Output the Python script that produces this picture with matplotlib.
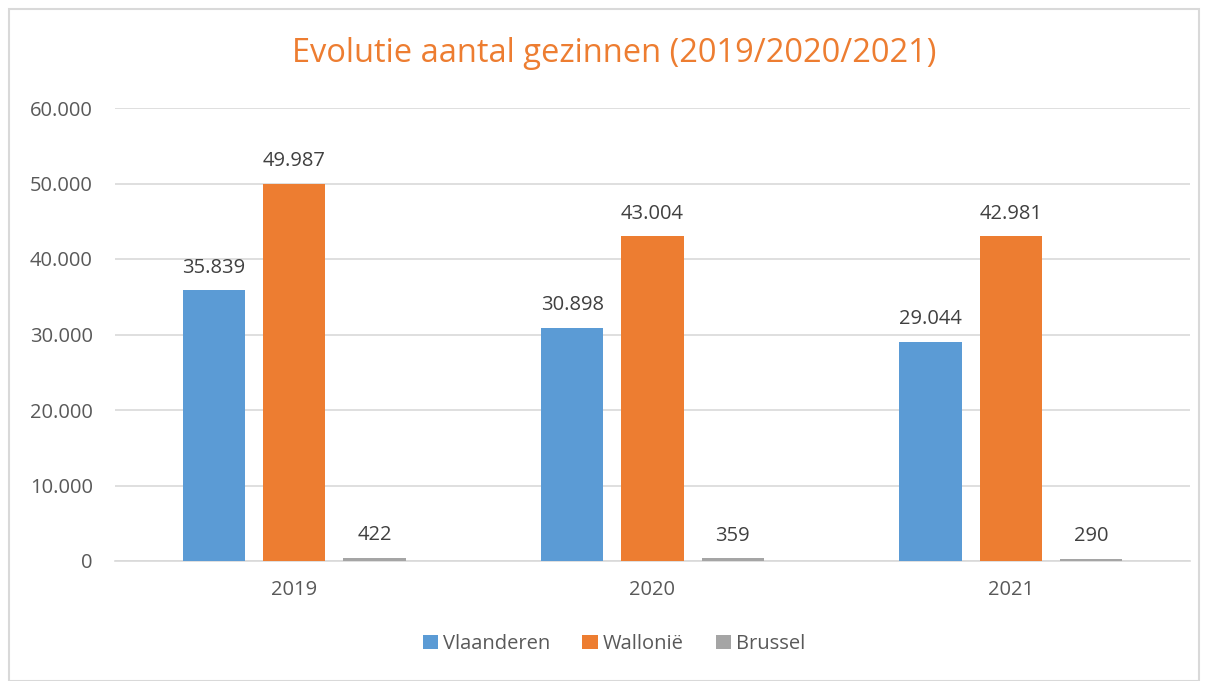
import matplotlib

matplotlib.use("Agg")

import matplotlib.pyplot as plt
import numpy as np
from matplotlib.patches import Rectangle
from matplotlib.ticker import FuncFormatter

years = ["2019", "2020", "2021"]
series_names = ["Vlaanderen", "Wallonië", "Brussel"]
vlaanderen = [35839, 30898, 29044]
wallonie = [49987, 43004, 42981]
brussel = [422, 359, 290]
colors = ["#5B9BD5", "#ED7D31", "#A5A5A5"]

TEXT = "#595959"
GRID = "#D9D9D9"
LABEL_SIZE = 14.5


def dotted(value: float) -> str:
    return f"{value:,.0f}".replace(",", ".")


plt.rcParams["font.family"] = ["Open Sans", "DejaVu Sans"]

fig = plt.figure(figsize=(12.08, 6.81), dpi=100)
fig.patches.append(
    Rectangle((9 / 1208, 0), 1 - 18 / 1208, 1 - 9 / 681, transform=fig.transFigure,
              fill=False, edgecolor=GRID, linewidth=1.5)
)
ax = fig.add_axes([115 / 1208, 1 - 561 / 681, 1075 / 1208, 453 / 681])

x = np.arange(len(years))
width = 0.174
step = 0.224
for i, (name, values) in enumerate(zip(series_names, [vlaanderen, wallonie, brussel])):
    pos = x + (i - 1) * step
    bars = ax.bar(pos, values, width, color=colors[i], label=name, zorder=3)
    for bar, v in zip(bars, values):
        ax.annotate(dotted(v), (bar.get_x() + bar.get_width() / 2, v),
                    xytext=(0, 9), textcoords="offset points",
                    ha="center", va="bottom", fontsize=LABEL_SIZE, color="#404040")

ax.set_xlim(-0.5, 2.5)
ax.set_ylim(0, 60000)
ax.set_yticks(np.arange(0, 60001, 10000))
ax.yaxis.set_major_formatter(FuncFormatter(lambda v, _: dotted(v)))
ax.set_xticks(x)
ax.set_xticklabels(years)
ax.grid(axis="y", color=GRID, linewidth=1.2, zorder=0)
for side in ["top", "right", "left"]:
    ax.spines[side].set_visible(False)
ax.spines["bottom"].set_color(GRID)
ax.spines["bottom"].set_linewidth(1.2)
ax.tick_params(axis="both", length=0, labelsize=LABEL_SIZE, colors=TEXT)
ax.tick_params(axis="y", pad=16)
ax.tick_params(axis="x", pad=14)

fig.text(614 / 1208, 1 - 53 / 681, "Evolutie aantal gezinnen (2019/2020/2021)",
         ha="center", va="center", fontsize=23.5, color="#ED7D31")

fig.legend(loc="center", bbox_to_anchor=(614 / 1208, 1 - 644 / 681), ncol=3,
           frameon=False, fontsize=LABEL_SIZE, labelcolor=TEXT, handlelength=0.75,
           handleheight=0.75, handletextpad=0.25, columnspacing=1.6)

fig.savefig("out.png", dpi=100)
